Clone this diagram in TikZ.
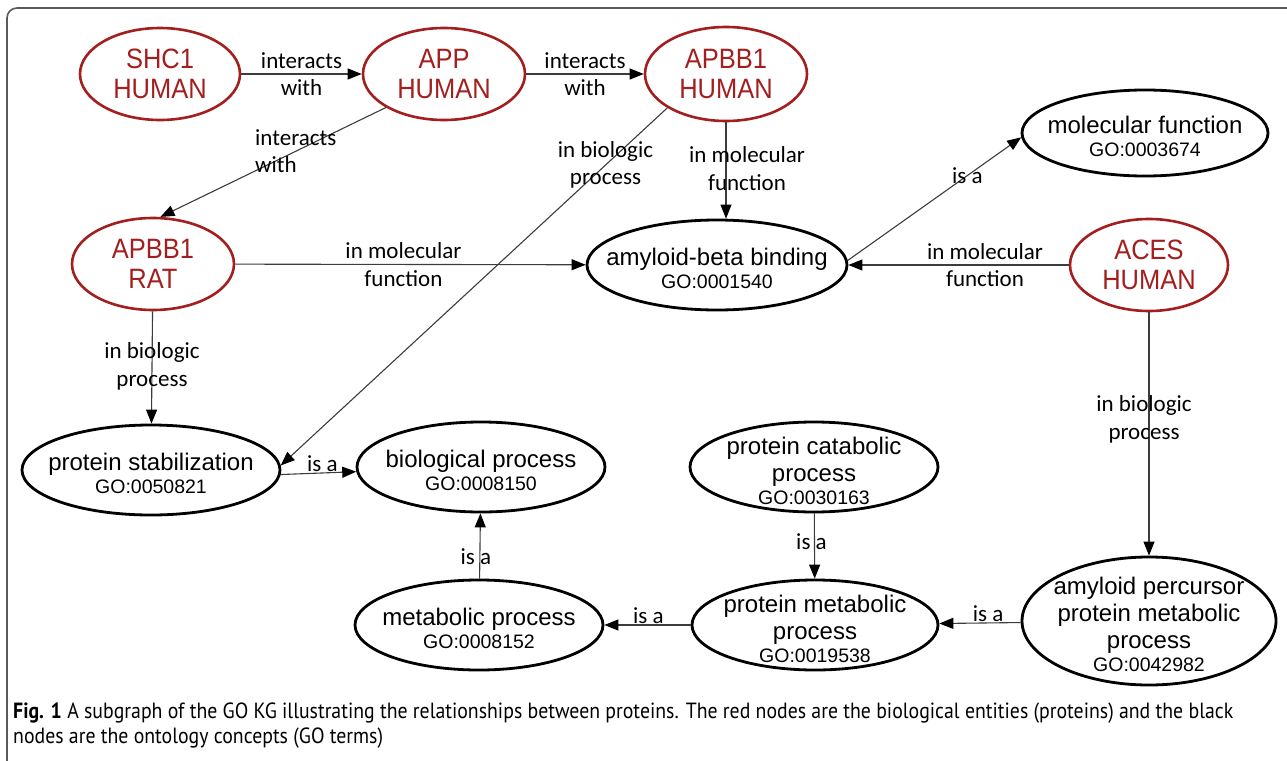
\documentclass[tikz,border=0pt]{standalone}
\usepackage{fontspec}
\setmainfont{Liberation Sans}
\newfontfamily\redfont{Liberation Sans}[FakeStretch=0.91]
\newfontfamily\lblfont{Carlito}
\newfontfamily\capfont{PT Sans}[FakeStretch=0.9]
\usetikzlibrary{shapes.geometric,arrows.meta}
\definecolor{protred}{RGB}{163,30,30}
\definecolor{edgegray}{RGB}{60,60,60}
\definecolor{framegray}{RGB}{90,90,90}
\newcommand\goid[1]{{\fontsize{19.5}{22}\selectfont #1}}
% zero-size centred text block, so that the ellipse size is set by minimum width/height
\newcommand\zb[1]{\makebox[0pt]{\smash{\raisebox{\dimexpr-0.25em-7pt\relax}{\begin{tabular}{@{}c@{}}#1\end{tabular}}}}}
\tikzset{
  prot/.style={ellipse, draw=protred, line width=2.6pt, text=protred, inner sep=0pt,
    align=center, font=\redfont\fontsize{28}{30.5}\selectfont},
  term/.style={ellipse, draw=black, line width=2.8pt, inner sep=0pt,
    font=\fontsize{24}{27}\selectfont},
  rel/.style={draw=edgegray, line width=1.1pt, -{Triangle[length=14pt,width=11pt,color=black]}},
  lbl/.style={font=\lblfont\fontsize{23}{27.5}\selectfont, align=center, inner sep=1pt, text=black},
}
\begin{document}
\begin{tikzpicture}[x=1pt,y=-1pt]
\useasboundingbox (0,0) rectangle (1287,760);
\draw[framegray, line width=1.6pt, rounded corners=10pt] (7,8) rectangle (1320,800);

% protein nodes
\node[prot, minimum width=160, minimum height=92] (shc) at (160,74) {SHC1\\HUMAN};
\node[prot, minimum width=162, minimum height=92] (app) at (444,74) {APP\\HUMAN};
\node[prot, minimum width=162, minimum height=94] (apbbh) at (726,74) {APBB1\\HUMAN};
\node[prot, minimum width=162, minimum height=92] (rat) at (153,264) {APBB1\\RAT};
\node[prot, minimum width=158, minimum height=92] (aces) at (1149,265) {ACES\\HUMAN};

% GO term nodes
\node[term, minimum width=246, minimum height=86] (mf) at (1145,133) {\zb{molecular function\\[-4pt]\goid{GO:0003674}}};
\node[term, minimum width=260, minimum height=90] (abb) at (717,265) {\zb{amyloid-beta binding\\[-4pt]\goid{GO:0001540}}};
\node[term, minimum width=258, minimum height=90] (pstab) at (151,470) {\zb{protein stabilization\\[-4pt]\goid{GO:0050821}}};
\node[term, minimum width=248, minimum height=90] (bp) at (481,467) {\zb{biological process\\[-4pt]\goid{GO:0008150}}};
\node[term, minimum width=248, minimum height=90] (pcp) at (814,467) {\zb{protein catabolic\\process\\[-4pt]\goid{GO:0030163}}};
\node[term, minimum width=248, minimum height=90] (mp) at (479,625) {\zb{metabolic process\\[-4pt]\goid{GO:0008152}}};
\node[term, minimum width=246, minimum height=90] (pmp) at (815,625) {\zb{protein metabolic\\process\\[-4pt]\goid{GO:0019538}}};
\node[term, minimum width=254, minimum height=128] (apmp) at (1149,621) {\zb{amyloid percursor\\protein metabolic\\process\\[-4pt]\goid{GO:0042982}}};

% relations
\draw[rel] (shc) -- node[lbl] {interacts\\with} (app);
\draw[rel] (app) -- node[lbl] {interacts\\with} (apbbh);
\draw[rel] (app.210) -- node[lbl, pos=0.4, align=left] {interacts\\with} (rat.81);
\draw[rel] (apbbh.210.7) -- node[lbl, pos=0.16] {in biologic\\process} (pstab.2.3);
\draw[rel] (apbbh.south) -- node[lbl, pos=0.48, xshift=21pt] {in molecular\\function} (apbbh.south |- abb.north);
\draw[rel] (rat) -- node[lbl, pos=0.48] {in molecular\\function} (abb);
\draw[rel] (aces) -- node[lbl, pos=0.38] {in molecular\\function} (abb);
\draw[rel] (abb.2) -- node[lbl, pos=0.69] {is a} (mf.182);
\draw[rel] (rat) -- node[lbl, pos=0.49] {in biologic\\process} (pstab);
\draw[rel] (pstab.358) -- node[lbl, pos=0.55, anchor=south] {is a} (bp);
\draw[rel] (mp) -- node[lbl, pos=0.34, xshift=-4pt] {is a} (bp);
\draw[rel] (pcp) -- node[lbl, pos=0.43, xshift=-3pt] {is a} (pmp);
\draw[rel] (pmp) -- node[lbl, pos=0.49, anchor=south] {is a} (mp);
\draw[rel] (apmp) -- node[lbl, pos=0.4, anchor=south] {is a} (pmp);
\draw[rel] (aces) -- node[lbl, pos=0.44, xshift=-5pt] {in biologic\\process} (apmp);

% caption
\node[anchor=base west, inner sep=0pt, align=left, font=\capfont\fontsize{22}{25}\selectfont] (cap) at (13,743)
  {\textbf{Fig. 1} A subgraph of the GO KG illustrating the relationships between proteins. The red nodes are the biological entities (proteins) and the black\\nodes are the ontology concepts (GO terms)};
\end{tikzpicture}
\end{document}
